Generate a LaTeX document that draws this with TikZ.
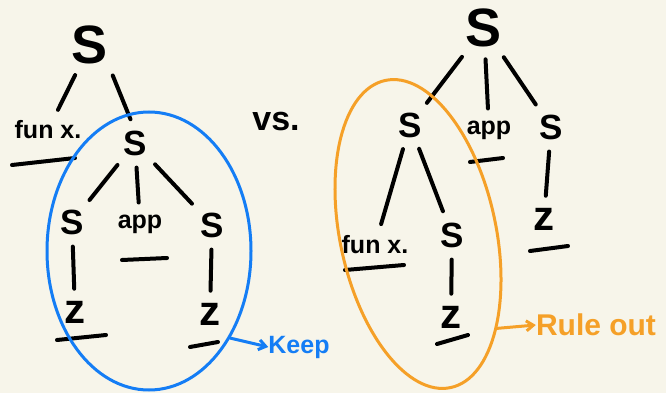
\documentclass[tikz,border=0pt]{standalone}
\usepackage{fontspec}
\setmainfont{Liberation Sans}
\usetikzlibrary{arrows.meta,calc,shapes.geometric}
\definecolor{bg}{RGB}{247,245,234}
\definecolor{keepblue}{RGB}{20,125,245}
\definecolor{ruleorange}{RGB}{245,160,40}
\begin{document}
\begin{tikzpicture}[x=1pt,y=-1pt,
  ink/.style={line width=4pt,line cap=round},
  bigS/.style={font=\bfseries\fontsize{54}{54}\selectfont,inner sep=0pt},
  midS/.style={font=\bfseries\fontsize{35}{35}\selectfont,inner sep=0pt},
  leaf/.style={font=\bfseries\fontsize{42}{42}\selectfont,inner sep=0pt},
  lbl/.style={font=\bfseries\fontsize{25}{25}\selectfont,inner sep=0pt},
  edge/.style={ink,shorten >=12pt,shorten <=12pt},
  ring/.style={draw,ellipse,line width=3pt,inner sep=0pt},
  note/.style={line width=3pt,line cap=round,-{Straight Barb[length=7pt,width=10pt]}}]
\fill[bg] (0,0) rectangle (666,393);
\useasboundingbox (0,0) rectangle (666,393);

% left tree
\node[bigS] (L0) at (90,45) {S};
\node[lbl]  (Lf) at (48,130) {fun x.};
\node[midS] (L1) at (135,143) {S};
\node[midS] (L2) at (72,222) {S};
\node[lbl]  (La) at (140,224) {app};
\node[midS] (L3) at (212,225) {S};
\node[leaf] (L4) at (75,312) {z};
\node[leaf] (L5) at (210,314) {z};

\draw[edge] (L0) -- (Lf);
\draw[edge] (L0.south east) -- (L1.north);
\draw[edge] (L1) -- (L2);
\draw[edge] (L1) -- (La);
\draw[edge] (L1) -- (L3);
\draw[edge] (L2) -- (L4);
\draw[edge] (L3) -- (L5);

\draw[ink] ($(Lf)+(-36,35)$) -- ($(Lf)+(27,28)$);
\draw[ink] ($(La)+(-18,36)$) -- ($(La)+(27,34)$);
\draw[ink] ($(L4)+(-18,28)$) -- ($(L4)+(31,23)$);
\draw[ink] ($(L5)+(-20,33)$) -- ($(L5)+(8,28)$);

\node[ring,draw=keepblue,minimum width=204pt,minimum height=278pt] (E1) at (149,251) {};
\node[lbl,text=keepblue,font=\bfseries\fontsize{25}{25}\selectfont] (K) at (299,347) {Keep};
\draw[note,draw=keepblue] (E1.-47) -- (K.west);

\node[font=\bfseries\fontsize{34}{34}\selectfont,inner sep=0pt] (vs) at (276,122) {vs.};

% right tree
\node[bigS] (R0) at (484,28) {S};
\node[midS] (R1) at (410,125) {S};
\node[lbl]  (Ra) at (489,130) {app};
\node[midS] (R2) at (551,127) {S};
\node[leaf] (R3) at (544,219) {z};
\node[lbl]  (Rf) at (375,245) {fun x.};
\node[midS] (R4) at (452,235) {S};
\node[leaf] (R5) at (451,317) {z};

\draw[edge] (R0) -- (R1);
\draw[edge] (R0) -- (Ra);
\draw[edge] (R0) -- (R2);
\draw[edge] (R1) -- (Rf);
\draw[edge] (R1) -- (R4);
\draw[edge] (R2) -- (R3);
\draw[edge] (R4) -- (R5);

\draw[ink] ($(Ra)+(-19,32)$) -- ($(Ra)+(14,28)$);
\draw[ink] ($(R3)+(-14,32)$) -- ($(R3)+(24,27)$);
\draw[ink] ($(Rf)+(-30,25)$) -- ($(Rf)+(29,20)$);
\draw[ink] ($(R5)+(-14,27)$) -- ($(R5)+(17,18)$);

\node[ring,draw=ruleorange,rotate=12,minimum width=156pt,minimum height=314pt] (E2) at (418,234) {};
\node[lbl,text=ruleorange,font=\bfseries\fontsize{30}{30}\selectfont] (RO) at (596,325) {Rule out};
\draw[note,draw=ruleorange] (E2.-62) -- (RO.west);
\end{tikzpicture}
\end{document}
